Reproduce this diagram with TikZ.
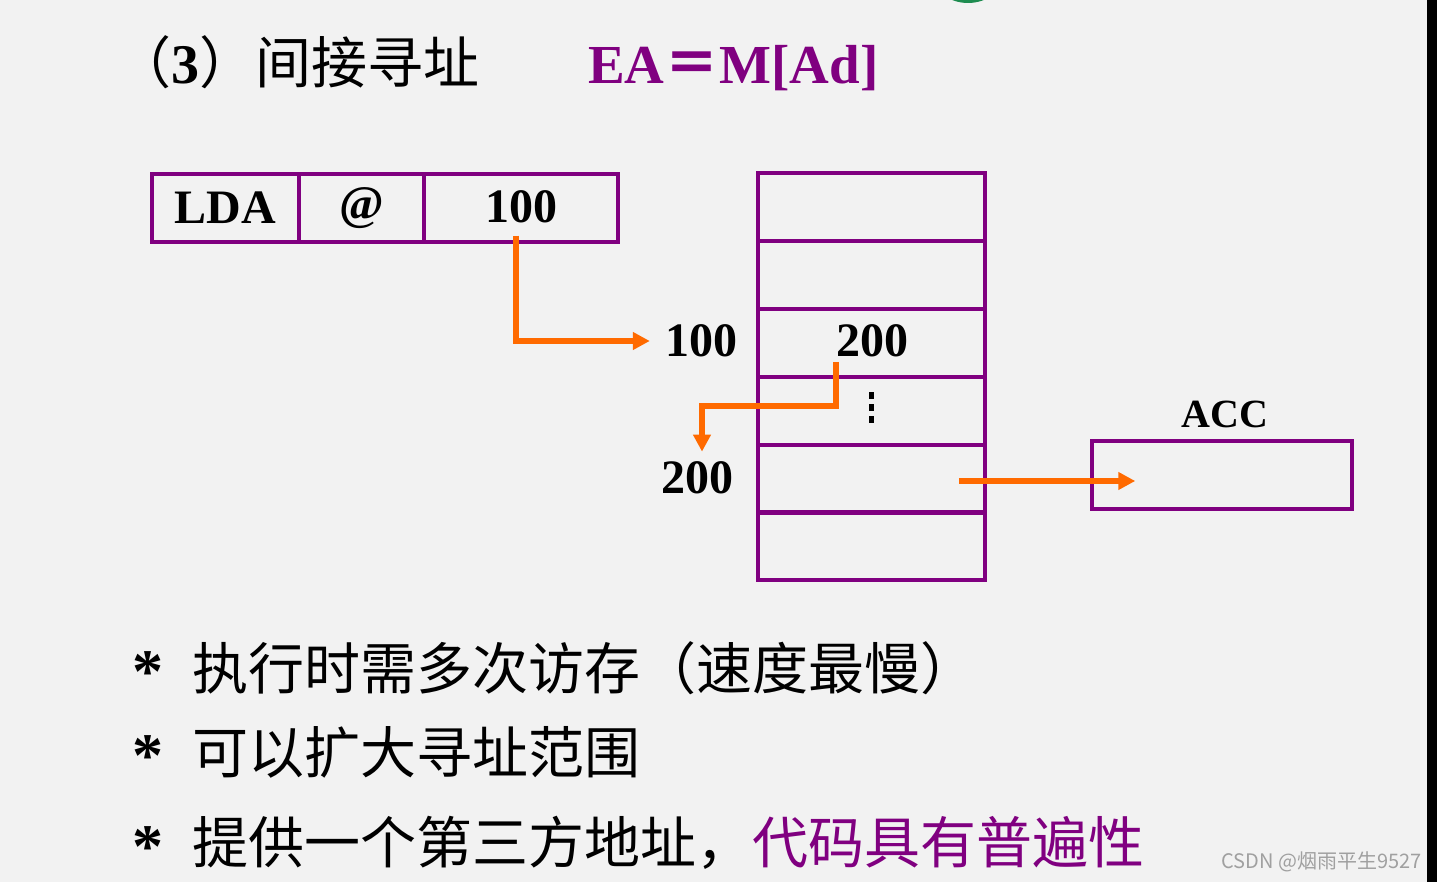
\documentclass[tikz,border=0pt]{standalone}
\usepackage{fontspec}
\setmainfont{Liberation Serif}
\newfontfamily\cjk{Noto Sans CJK SC}
\usetikzlibrary{arrows.meta}
\definecolor{bg}{HTML}{F2F2F2}
\definecolor{pur}{HTML}{800080}
\definecolor{org}{HTML}{FF6A00}
\definecolor{grn}{HTML}{1E8C50}
\definecolor{wmgray}{HTML}{A0A0A0}
\begin{document}
\begin{tikzpicture}[x=1pt,y=-1pt,
  cell/.style={draw=pur, line width=3.5pt, minimum height=68pt, inner sep=0pt},
  num/.style={font=\bfseries\fontsize{48}{50}\selectfont, inner sep=0pt},
  cjktext/.style={font=\cjk\fontsize{56}{60}\selectfont, inner sep=0pt, anchor=west},
  star/.style={font=\bfseries\fontsize{62}{64}\selectfont, inner sep=0pt},
  arr/.style={draw=org, line width=6.5pt, -{Triangle[length=17pt,width=17pt]}},
]
\useasboundingbox (0,0) rectangle (1437,882);
\fill[bg] (0,0) rectangle (1427,882);
\fill[black] (1427,0) rectangle (1437,882);
\fill[grn] (968,-25) ellipse (35pt and 28pt);

% title
\node[inner sep=0pt, anchor=base west] (title) at (115,84)
  {\fontsize{56}{60}\selectfont{\cjk （}{\bfseries 3}{\cjk ）间接寻址}};
\node[inner sep=0pt, anchor=base west, text=pur] (ea) at (588,84)
  {\bfseries\fontsize{55}{60}\selectfont EA{\cjk ＝}M[Ad]};

% instruction
\node[cell, minimum width=147pt, num] (lda) at (225.5,208) {LDA};
\node[cell, minimum width=125pt, num] (atf) at (361.5,208) {@};
\node[cell, minimum width=194pt, num] (adr) at (521,208) {\raisebox{2pt}{100}};

% memory
\foreach \i/\y in {1/207,2/275,3/343,4/411,5/479,6/546}
  \node[cell, minimum width=227pt] (m\i) at (871.5,\y) {};
\node[num] (v200) at (872,341) {200};
\draw[line width=5pt, dash pattern=on 7pt off 5pt] ([yshift=19pt]m4.center) -- ([yshift=-14pt]m4.center);

\node[num] (l100) at (701,341) {100};
\node[num] (l200) at (697,478) {200};

% ACC
\node[cell, minimum width=260pt] (acc) at (1222,475) {};
\node[inner sep=0pt, font=\bfseries\fontsize{40}{44}\selectfont] (acclbl) at (1225,414) {ACC};

% arrows
\draw[arr] ([xshift=-5pt,yshift=8pt]adr.south) |- ([xshift=-15pt]l100.west);
\draw[arr] ([xshift=-35.5pt,yshift=-19pt]m3.center) -- ++(0,44) -| ([xshift=5pt,yshift=10pt]l200.north);
\draw[arr] ([xshift=-28pt,yshift=-2pt]m5.east) -- ([xshift=45pt,yshift=-6pt]acc.west);

% bullets
\node[star] (s1) at (148,672) {*};
\node[star] (s2) at (148,756) {*};
\node[star] (s3) at (148,847) {*};
\node[cjktext] (b1) at (192,668) {执行时需多次访存（速度最慢）};
\node[cjktext] (b2) at (192,752) {可以扩大寻址范围};
\node[cjktext] (b3) at (192,843) {提供一个第三方地址，\textcolor{pur}{代码具有普遍性}};

% watermark
\node[inner sep=0pt, anchor=east, text=wmgray, font=\cjk\fontsize{20}{22}\selectfont] (wm) at (1422,862) {CSDN @烟雨平生9527};
\end{tikzpicture}
\end{document}
